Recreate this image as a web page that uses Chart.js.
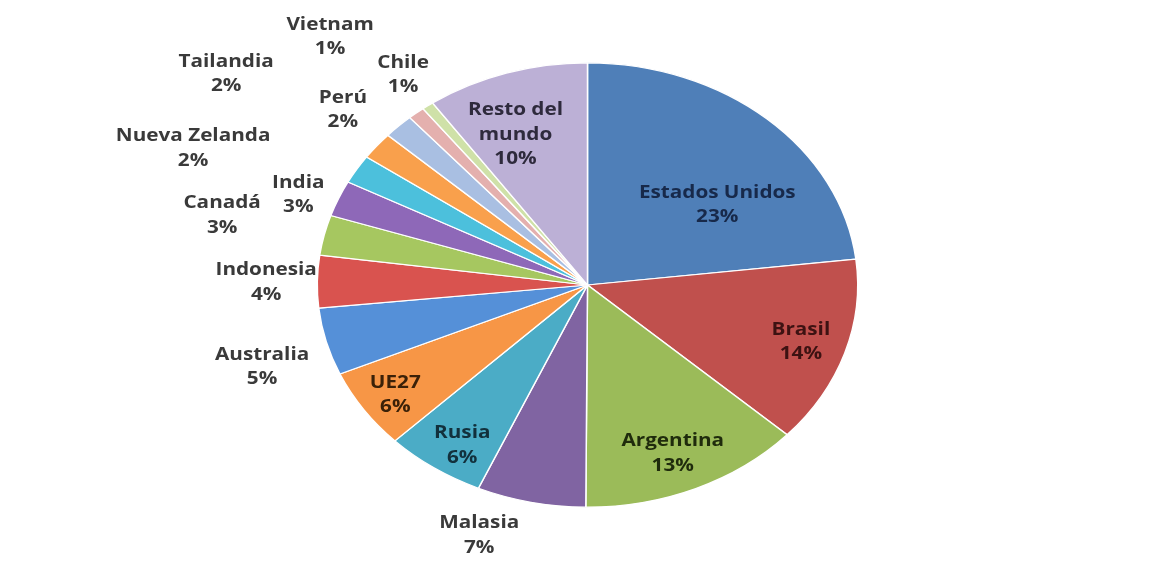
<!DOCTYPE html>
<html>
<head>
<meta charset="utf-8">
<script src="https://cdn.jsdelivr.net/npm/chart.js@4"></script>
<style>
  html, body { margin: 0; padding: 0; background: #ffffff; }
  #wrap { width: 1152px; height: 563px; position: relative; }
</style>
</head>
<body>
<div id="wrap"><canvas id="pieChart" width="1152" height="563"></canvas></div>
<script>
// Participación por país (%), en sentido horario desde las 12
const countries = ['Estados Unidos', 'Brasil', 'Argentina', 'Malasia', 'Rusia', 'UE27', 'Australia',
    'Indonesia', 'Canadá', 'India', 'Nueva Zelanda', 'Tailandia', 'Perú', 'Chile', 'Vietnam', 'Resto del mundo'];
const shares = [23.1, 13.6, 13.3, 6.5, 6.0, 5.8, 4.9, 3.8, 2.9, 2.6, 2.1, 2.0, 1.8, 1.0, 0.7, 9.7];

const colors = ['#4f7fb8', '#c0504d', '#9bbb59', '#8064a2', '#4bacc6', '#f79646', '#5590d8',
    '#d9534f', '#a6c760', '#8e68b8', '#4cc0dc', '#f9a04c', '#a9bfe2', '#e4b0ae', '#cfe1a8', '#bcb0d6'];

// colour of the text and where it sits: k = fraction of the radius, dA = degrees of nudge
const labelStyle = [
    { k: 0.60, dA: 11.5, color: '#17294a', lines: ['Estados Unidos'] },
    { k: 0.83, dA: 0.1, color: '#3d1212', lines: ['Brasil'] },
    { k: 0.82, dA: 1, color: '#1f2b0c', lines: ['Argentina'] },
    { k: 1.195, dA: 7.5, color: '#3a3a3a', lines: ['Malasia'] },
    { k: 0.857, dA: -1.9, color: '#12303c', lines: ['Rusia'] },
    { k: 0.866, dA: -0.7, color: '#3b2108', lines: ['UE27'] },
    { k: 1.259, dA: -2.2, color: '#3a3a3a', lines: ['Australia'] },
    { k: 1.189, dA: -0.3, color: '#3a3a3a', lines: ['Indonesia'] },
    { k: 1.388, dA: 0.1, color: '#3a3a3a', lines: ['Canadá'] },
    { k: 1.144, dA: -2.2, color: '#3a3a3a', lines: ['India'] },
    { k: 1.584, dA: -8.5, color: '#3a3a3a', lines: ['Nueva Zelanda'] },
    { k: 1.64, dA: -3.4, color: '#3a3a3a', lines: ['Tailandia'] },
    { k: 1.20, dA: -4.6, color: '#3a3a3a', lines: ['Perú'] },
    { k: 1.166, dA: 3.5, color: '#3a3a3a', lines: ['Chile'] },
    { k: 1.468, dA: -4.2, color: '#3a3a3a', lines: ['Vietnam'] },
    { k: 0.727, dA: -4, color: '#2e2a3c', lines: ['Resto del', 'mundo'] }
];

const squash = 222 / 270;
const textStretch = 1.15;

const ellipsePlugin = {
    id: 'ellipse',
    beforeDatasetsDraw(chart) {
        const arc = chart.getDatasetMeta(0).data[0];
        const ctx = chart.ctx;
        ctx.save();
        ctx.translate(arc.x, arc.y);
        ctx.scale(1, squash);
        ctx.translate(-arc.x, -arc.y);
    },
    afterDatasetsDraw(chart) {
        chart.ctx.restore();
    }
};

const labelPlugin = {
    id: 'pieLabels',
    afterDraw(chart) {
        const ctx = chart.ctx;
        const meta = chart.getDatasetMeta(0);
        const total = shares.reduce((a, b) => a + b, 0);
        ctx.save();
        ctx.font = 'bold 18px "Open Sans", sans-serif';
        ctx.textAlign = 'center';
        ctx.textBaseline = 'middle';
        meta.data.forEach((arc, i) => {
            const st = labelStyle[i];
            const mid = (arc.startAngle + arc.endAngle) / 2 + st.dA * Math.PI / 180;
            const r = arc.outerRadius * st.k;
            const x = arc.x + r * Math.cos(mid);
            const y = arc.y + r * Math.sin(mid) * squash;
            const lines = st.lines.concat([Math.round(shares[i] / total * 100) + '%']);
            const lh = 24.5;
            const top = y - (lines.length - 1) * lh / 2;
            ctx.fillStyle = st.color;
            lines.forEach((t, j) => {
                ctx.save();
                ctx.translate(x, top + j * lh);
                ctx.scale(textStretch, 1);
                ctx.fillText(t, 0, 0);
                ctx.restore();
            });
        });
        ctx.restore();
    }
};

new Chart(document.getElementById('pieChart').getContext('2d'), {
    type: 'pie',
    data: {
        labels: countries,
        datasets: [{
            data: shares,
            backgroundColor: colors,
            borderColor: '#ffffff',
            borderWidth: 1.5,
            clip: false
        }]
    },
    options: {
        responsive: false,
        animation: false,
        layout: {
            padding: { left: 316, right: 293, top: 14, bottom: 7 }
        },
        plugins: {
            legend: { display: false },
            tooltip: { enabled: false }
        }
    },
    plugins: [ellipsePlugin, labelPlugin]
});
</script>
</body>
</html>
